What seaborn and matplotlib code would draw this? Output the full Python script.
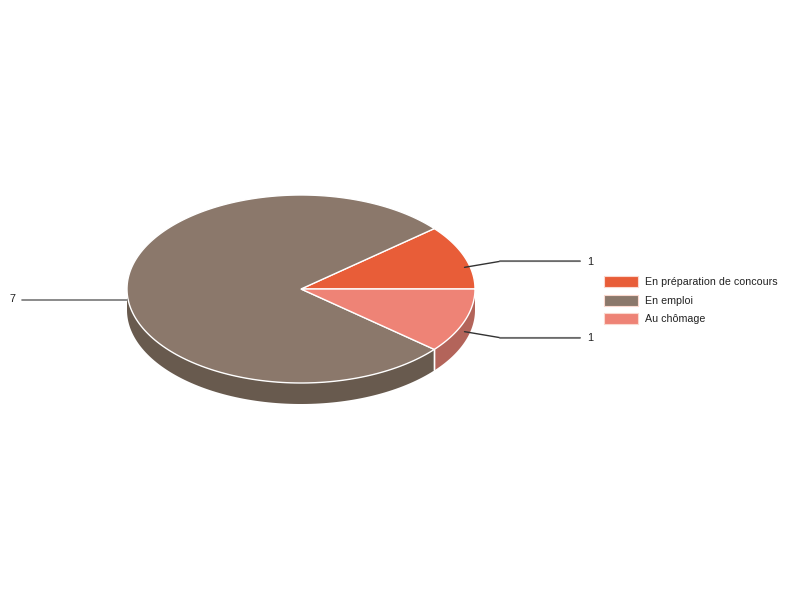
import numpy as np
import matplotlib
matplotlib.use('Agg')
import matplotlib.pyplot as plt
from matplotlib.patches import Polygon, Rectangle
import seaborn as sns

labels = ['En préparation de concours', 'En emploi', 'Au chômage']
values = [1, 7, 1]
colors = ['#E85D38', '#8B786B', '#EE8376']
side_colors = ['#B0472A', '#685A4E', '#B3645A']

sns.set_theme(style='white')
plt.rcParams['font.family'] = ['Liberation Sans', 'DejaVu Sans']

fig = plt.figure(figsize=(8, 6), dpi=100)
ax = fig.add_axes([0, 0, 1, 1])
ax.set_xlim(0, 800)
ax.set_ylim(600, 0)
ax.axis('off')

cx, cy, rx, ry, depth = 301, 289, 174, 94, 21


def pt(a, dy=0):
    return cx + rx * np.cos(a), cy - ry * np.sin(a) + dy


total = sum(values)
angles = np.concatenate([[0], np.cumsum(values) / total * 2 * np.pi])

# side walls (front half only)
for i in range(len(values)):
    a0, a1 = angles[i], angles[i + 1]
    lo, hi = max(a0, np.pi), min(a1, 2 * np.pi)
    if lo >= hi:
        continue
    t = np.linspace(lo, hi, 100)
    top = [pt(a) for a in t]
    bot = [pt(a, depth) for a in t[::-1]]
    ax.add_patch(Polygon(top + bot, closed=True, facecolor=side_colors[i],
                         edgecolor='none', zorder=1))
    # white vertical edge at slice boundary
    for a in (a0, a1):
        if np.pi < a < 2 * np.pi:
            x, y = pt(a)
            ax.plot([x, x], [y, y + depth], color='white', lw=1, zorder=2)

# top faces
for i in range(len(values)):
    t = np.linspace(angles[i], angles[i + 1], 200)
    poly = [(cx, cy)] + [pt(a) for a in t]
    ax.add_patch(Polygon(poly, closed=True, facecolor=colors[i],
                         edgecolor='white', lw=1, zorder=3))

# labels with leader lines
for i, v in enumerate(values):
    mid = (angles[i] + angles[i + 1]) / 2
    x0, y0 = pt(mid, depth / 2)
    if np.cos(mid) < -0.9:
        ax.plot([x0, 22], [y0, y0], color='#777777', lw=1.2, zorder=4)
        ax.text(15, y0, str(v), ha='right', va='center', fontsize=7.8, color='#222222')
    else:
        ye = y0 - 6 if np.sin(mid) > 0 else y0 + 6
        ax.plot([x0, 500, 580], [y0, ye, ye], color='#333333', lw=1, zorder=4)
        ax.plot([500, 580], [ye, ye], color='#777777', lw=1.2, zorder=4)
        ax.text(587, ye + 0.5, str(v), ha='left', va='center', fontsize=7.8, color='#222222')

# legend
for i, lab in enumerate(labels):
    y = 281.5 + i * 18.5
    ax.add_patch(Rectangle((604, y - 5.5), 34, 11, facecolor=colors[i],
                           edgecolor='#FBD9CF', lw=0.8, zorder=4))
    ax.text(645, y + 0.5, lab, ha='left', va='center', fontsize=7.7, color='#222222')

fig.savefig('out.png', dpi=100, facecolor='white')
